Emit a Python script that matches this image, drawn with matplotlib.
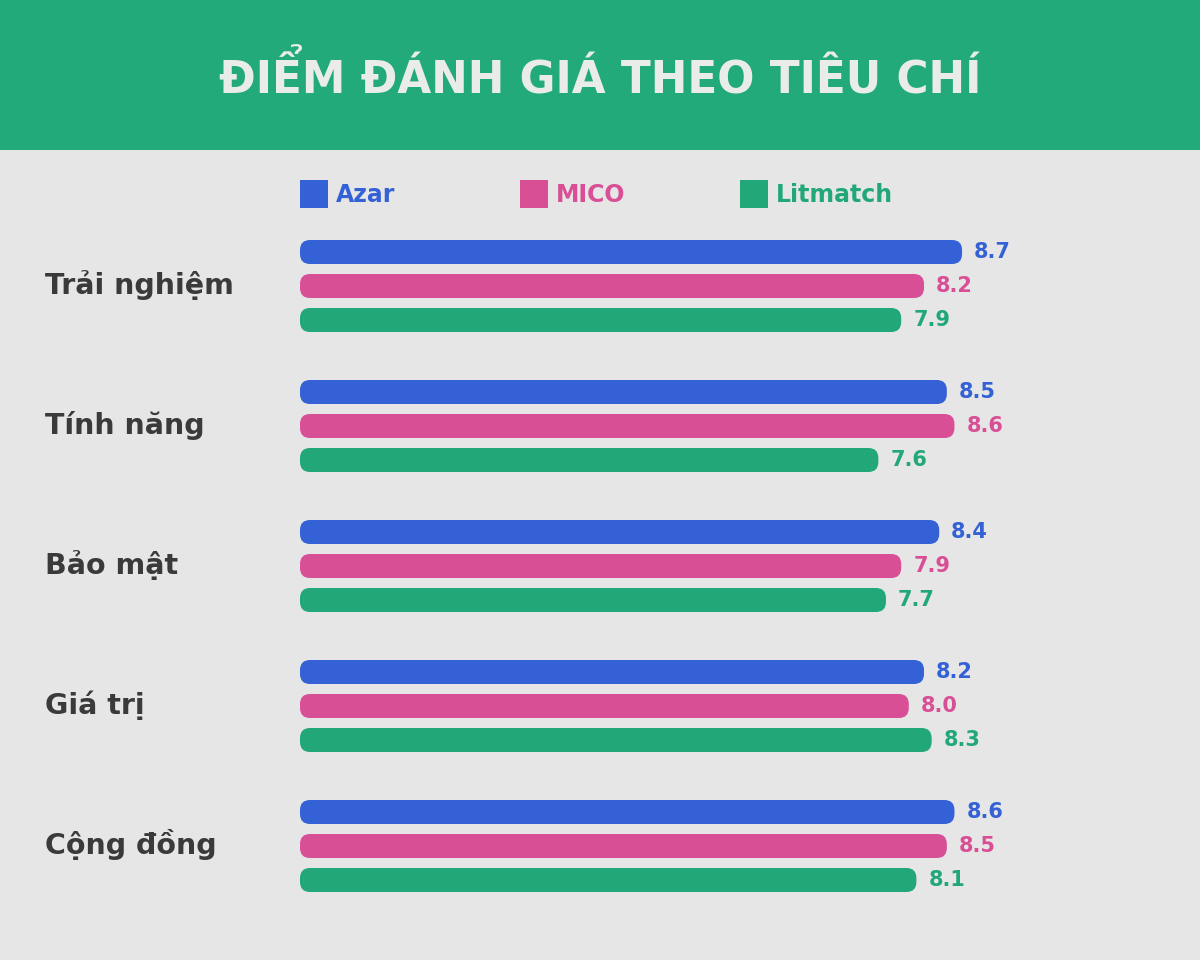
import matplotlib.pyplot as plt
from matplotlib.patches import FancyBboxPatch, Rectangle

plt.rcParams['font.family'] = ['DejaVu Sans']

categories = ["Trải nghiệm", "Tính năng", "Bảo mật", "Giá trị", "Cộng đồng"]
series = ["Azar", "MICO", "Litmatch"]
azar = [8.7, 8.5, 8.4, 8.2, 8.6]
mico = [8.2, 8.6, 7.9, 8.0, 8.5]
litmatch = [7.9, 7.6, 7.7, 8.3, 8.1]
colors = ["#3462D6", "#D94F96", "#22A878"]

W, H = 1200, 960
PX = 76.1  # pixels per score unit

fig = plt.figure(figsize=(12, 9.6), dpi=100)
fig.patch.set_facecolor("#e6e6e6")

# header band + text layer in pixel coordinates
bg = fig.add_axes([0, 0, 1, 1])
bg.set_xlim(0, W)
bg.set_ylim(H, 0)
bg.axis("off")
bg.add_patch(Rectangle((0, 0), W, 150, color="#22AA7A", lw=0))
bg.text(600, 77, "ĐIỂM ĐÁNH GIÁ THEO TIÊU CHÍ", ha="center", va="center",
        fontsize=31.5, fontweight="bold", color="#e9ece9")

for i, name in enumerate(series):
    x0 = 300 + i * 220
    bg.add_patch(Rectangle((x0, 180), 28, 28, color=colors[i], lw=0))
    bg.text(x0 + 36, 195, name, ha="left", va="center", fontsize=17,
            fontweight="bold", color=colors[i])

for g, cat in enumerate(categories):
    bg.text(45, 285 + g * 140, cat, ha="left", va="center", fontsize=20.5,
            fontweight="bold", color="#3a3a3a")

# bar axes: x in score units, y in pixels
ax = fig.add_axes([300 / W, 0, 900 / W, 1])
ax.set_xlim(0, 900 / PX)
ax.set_ylim(H, 0)
ax.axis("off")

bar_h = 24
for g in range(len(categories)):
    for i, vals in enumerate([azar, mico, litmatch]):
        v = vals[g]
        yc = 252 + g * 140 + i * 34
        r = 10 / PX
        ax.add_patch(FancyBboxPatch((r, yc - bar_h / 2 + 10), v - 2 * r, bar_h - 20,
                                    boxstyle=f"round,pad={r},rounding_size={r}",
                                    mutation_aspect=PX, color=colors[i], lw=0))
        ax.text(v + 12 / PX, yc, f"{v:.1f}", ha="left", va="center",
                fontsize=15, fontweight="bold", color=colors[i])

fig.savefig("out.png", dpi=100, facecolor=fig.get_facecolor())
